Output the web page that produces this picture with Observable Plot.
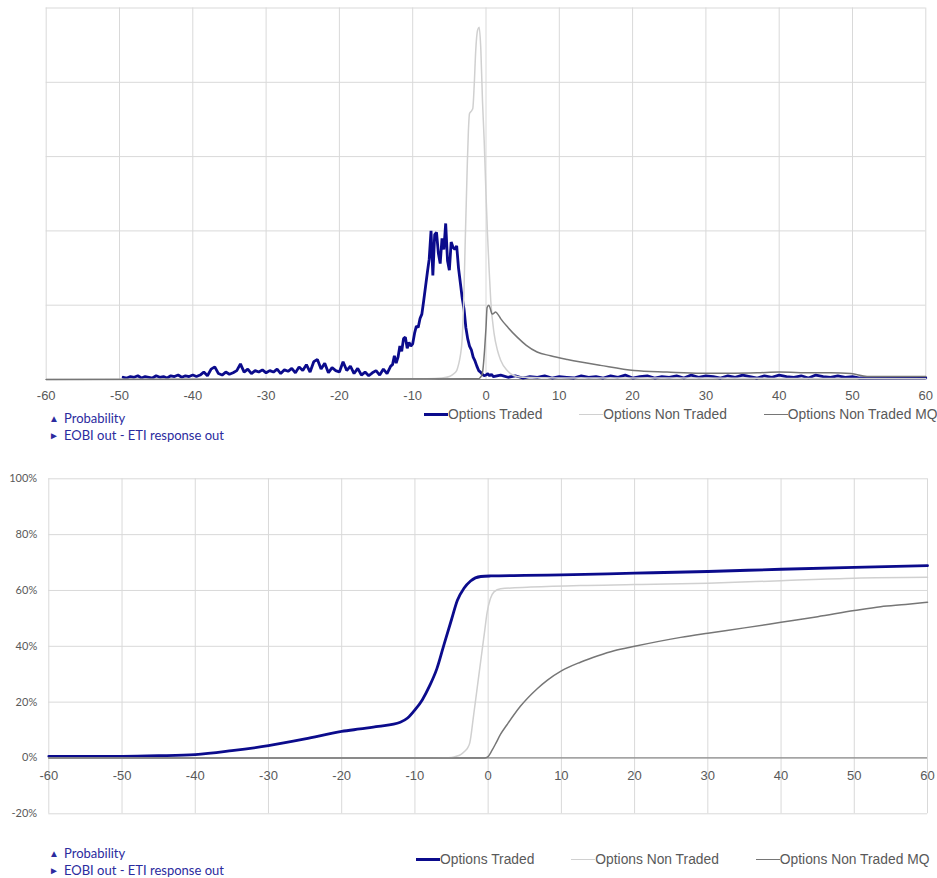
<!DOCTYPE html>
<html><head><meta charset="utf-8">
<script src="https://cdn.jsdelivr.net/npm/d3@7"></script>
<script src="https://cdn.jsdelivr.net/npm/@observablehq/plot@0.6"></script>
<style>
html,body{margin:0;padding:0;background:#fff}
body{width:937px;height:878px;position:relative;overflow:hidden;font-family:"Liberation Sans",Arial,sans-serif}
#c1{position:absolute;left:0;top:0}
#c2{position:absolute;left:0;top:460px}
.legL{position:absolute;left:49px;font-family:Lato,sans-serif;font-size:13px;color:#2b2b9e;line-height:17px;white-space:nowrap}
.legL .tri{display:inline-block;width:15px;font-size:10px;vertical-align:1px}
.legR{position:absolute;display:flex;align-items:center;white-space:nowrap;font-family:"Liberation Sans",Arial,sans-serif;font-size:13.8px;color:#595959}
.legR .sw{display:inline-block;width:24px;margin-right:0}
.legR .item{display:flex;align-items:center;margin-right:37px}
</style>
</head><body>
<div id="c1"></div>
<div id="c2"></div>
<div class="legL" style="top:410px"><div><span class="tri">▲</span>Probability</div><div><span class="tri">►</span>EOBI out - ETI response out</div></div>
<div class="legR" style="top:407px;left:424px" id="lr1"></div>
<div class="legL" style="top:845px"><div><span class="tri">▲</span>Probability</div><div><span class="tri">►</span>EOBI out - ETI response out</div></div>
<div class="legR" style="top:852px;left:416px" id="lr2"></div>
<script>
// ---- shared ----
const xTicks = [-60,-50,-40,-30,-20,-10,0,10,20,30,40,50,60];
const seriesNames = ["Options Traded","Options Non Traded","Options Non Traded MQ"];
const seriesColors = ["#0b0b8c","#d0d0d0","#767676"];
const seriesWidths = [3,1.5,1.5];

// ---- top chart: density (arbitrary units, 5 gridline bands) ----
const densityGrid = [0,1,2,3,4,5];
// Options Traded, from -49.5 in steps of 0.5
const tradedTailLeftStart = -49.5;
const tradedTailLeft = [0.03,0.02,0.04,0.03,0.05,0.02,0.04,0.03,0.02,0.05,0.03,0.04,0.02,0.05,0.04,0.06,0.03,0.05,0.04,0.06,
  0.04,0.06,0.1,0.05,0.14,0.17,0.08,0.06,0.1,0.07,0.09,0.12,0.21,0.1,0.14,0.08,0.12,0.1,0.13,0.09,
  0.12,0.1,0.14,0.08,0.13,0.11,0.15,0.09,0.17,0.12,0.2,0.1,0.24,0.27,0.14,0.22,0.09,0.16,0.12,0.1,
  0.24,0.12,0.18,0.08,0.15,0.06,0.1,0.05,0.09,0.12,0.06,0.14,0.08,0.18];
// Options Traded, from -12.75 in steps of 0.25
const tradedPeakStart = -12.75;
const tradedPeak = [0.2,0.32,0.22,0.3,0.45,0.38,0.55,0.57,0.42,0.5,0.45,0.48,0.62,0.72,0.7,0.82,0.88,1.06,1.25,1.44,
  1.62,2.0,1.4,1.95,1.98,1.7,1.56,1.9,1.75,2.1,1.6,1.47,1.85,1.78,1.75,1.8,1.5,1.3,1.1,0.95,
  0.7,0.55,0.45,0.4,0.3,0.25,0.18,0.12,0.1,0.07,0.05,0.06,0.08,0.05,0.07,0.04];
// Options Traded, from 2 in steps of 1
const tradedTailRightStart = 2;
const tradedTailRight = [0.06,0.03,0.05,0.02,0.04,0.03,0.05,0.02,0.04,0.03,0.02,0.05,0.03,0.04,0.02,0.05,0.03,0.06,0.02,0.04,
  0.05,0.02,0.04,0.03,0.05,0.02,0.06,0.03,0.05,0.04,0.02,0.05,0.03,0.06,0.04,0.02,0.05,0.03,0.06,0.04,
  0.03,0.05,0.02,0.06,0.04,0.03,0.05,0.03,0.04,0.02,0.02,0.02,0.02,0.02,0.02,0.02,0.02,0.02,0.02];

const nonTradedDensX = [-60,-8,-6,-5,-4.5,-4,-3.75,-3.5,-3.25,-3,-2.85,-2.7,-2.55,-2.4,-2.25,-2.1,-1.95,-1.8,-1.6,-1.4,-1.15,-0.93,-0.7,-0.48,-0.25,-0.03,0.2,0.43,0.65,1.1,1.57,2,2.9,3.85,5,10,20,40,60];
const nonTradedDensY = [0,0.01,0.02,0.04,0.07,0.12,0.2,0.32,0.55,1.2,1.8,2.35,2.9,3.35,3.58,3.6,3.62,3.65,3.98,4.43,4.7,4.74,4.43,3.75,3.22,2.58,1.96,1.47,1.06,0.62,0.39,0.26,0.12,0.05,0.03,0.02,0.02,0.015,0.01];

const mqDensX = [-60,-1,-0.75,-0.5,-0.2,0,0.15,0.38,0.6,0.83,1.05,1.3,1.6,2,3,4.25,5.5,6.97,8.8,11.1,15.6,20.2,24.7,29.3,33.8,37,40,44.5,47,49.8,52,55,60];
const mqDensY = [0,0.01,0.03,0.08,0.39,0.7,0.97,1.0,0.95,0.88,0.89,0.91,0.88,0.82,0.7,0.57,0.46,0.37,0.32,0.27,0.19,0.12,0.1,0.085,0.085,0.09,0.1,0.09,0.09,0.08,0.04,0.04,0.04];

// ---- bottom chart: cumulative (%) ----
const cumTicks = [-20,0,20,40,60,80,100];
const tradedCumX = [-60,-55,-50,-45,-40,-35,-30,-25,-20,-17.5,-15,-12,-11,-10,-9,-8,-7,-6,-5,-4.2,-3.3,-2.4,-1,0.35,5,10,20,30,40,50,60];
const tradedCumY = [0.6,0.6,0.6,0.8,1.2,2.6,4.4,6.8,9.5,10.4,11.3,12.8,14.3,17.2,20.8,25.8,32,40.9,49.6,56.5,60.8,63.4,65.0,65.2,65.4,65.6,66.2,66.8,67.6,68.3,68.9];
const nonTradedCumX = [-60,-8,-6,-5,-4.5,-3.75,-3.2,-2.8,-2.5,-2,-1.5,-1,-0.5,-0.15,0.3,0.8,1.7,5.8,12.6,20,30,40,50,60];
const nonTradedCumY = [0,0,0.05,0.2,0.5,1.2,2.4,3.6,5.5,15,25,35,45,52,57,59.5,60.6,61.2,61.8,62.1,62.6,63.5,64.4,64.7];
const mqCumX = [-60,-0.5,-0.1,0.5,1,1.7,2.6,4.4,6.7,8.1,10,12.6,15,17.2,20,26.3,30,35,40,45,50,53.6,57,60];
const mqCumY = [0,0,0.3,2.6,5,8.5,12,18.5,24.8,27.9,31.2,34.3,36.6,38.4,40,43.2,44.7,46.6,48.6,50.6,52.8,54.2,55,55.8];

// ---- build ----
const fromStep = (start, step, vals) => vals.map((v, i) => ({x: start + i * step, y: v}));
const fromPairs = (xs, ys) => xs.map((x, i) => ({x, y: ys[i]}));
const tradedDens = [
  ...fromStep(tradedTailLeftStart, 0.5, tradedTailLeft),
  ...fromStep(tradedPeakStart, 0.25, tradedPeak),
  ...fromStep(tradedTailRightStart, 1, tradedTailRight)
];
const gridCol = "#d9d9d9";
const axisCol = "#8c8c8c";
const fmt = d => String(d);

const chartTop = Plot.plot({
  width: 937, height: 405,
  marginLeft: 45.7, marginRight: 11.7, marginTop: 7.5, marginBottom: 26,
  x: {domain: [-60, 60]},
  y: {domain: [0, 5], axis: null},
  style: {fontFamily: "Liberation Sans, Arial, sans-serif", fontSize: "13px", color: "#595959", background: "#fff", overflow: "visible"},
  marks: [
    Plot.ruleX(xTicks, {stroke: gridCol, strokeWidth: 1}),
    Plot.ruleY(densityGrid, {stroke: gridCol, strokeWidth: 1}),
    Plot.ruleY([0], {stroke: axisCol, strokeWidth: 1.2}),
    Plot.line(tradedDens, {x: "x", y: "y", stroke: seriesColors[0], strokeWidth: 2.8, strokeLinejoin: "miter"}),
    Plot.line(fromPairs(nonTradedDensX, nonTradedDensY), {x: "x", y: "y", stroke: seriesColors[1], strokeWidth: 1.5, curve: "monotone-x"}),
    Plot.line(fromPairs(mqDensX, mqDensY), {x: "x", y: "y", stroke: seriesColors[2], strokeWidth: 1.5, curve: "monotone-x"}),
    Plot.axisX({ticks: xTicks, tickSize: 0, tickPadding: 11.5, tickFormat: fmt, fontSize: 13, label: null})
  ]
});
document.getElementById("c1").appendChild(chartTop);

const chartBottom = Plot.plot({
  width: 937, height: 370,
  marginLeft: 48.3, marginRight: 10, marginTop: 18.3, marginBottom: 16.7,
  x: {domain: [-60, 60], axis: null},
  y: {domain: [-20, 100]},
  style: {fontFamily: "Liberation Sans, Arial, sans-serif", fontSize: "13px", color: "#595959", background: "#fff", overflow: "visible"},
  marks: [
    Plot.ruleX(xTicks, {stroke: gridCol, strokeWidth: 1}),
    Plot.ruleY(cumTicks, {stroke: gridCol, strokeWidth: 1}),
    Plot.ruleY([0], {stroke: axisCol, strokeWidth: 1.2}),
    Plot.line(fromPairs(tradedCumX, tradedCumY), {x: "x", y: "y", stroke: seriesColors[0], strokeWidth: 2.8, curve: "monotone-x"}),
    Plot.line(fromPairs(nonTradedCumX, nonTradedCumY), {x: "x", y: "y", stroke: seriesColors[1], strokeWidth: 1.5, curve: "monotone-x"}),
    Plot.line(fromPairs(mqCumX, mqCumY), {x: "x", y: "y", stroke: seriesColors[2], strokeWidth: 1.5, curve: "monotone-x"}),
    Plot.axisY({ticks: cumTicks, tickSize: 0, tickPadding: 11.6, tickFormat: d => d + "%", fontSize: 11, fontFamily: "Lato, sans-serif", label: null}),
    Plot.text(xTicks, {x: d => d, y: d => 0, text: fmt, dy: 18, fontSize: 13, fill: "#595959"})
  ]
});
document.getElementById("c2").appendChild(chartBottom);

// ---- legends ----
function legend(id) {
  const el = document.getElementById(id);
  seriesNames.forEach((n, i) => {
    const it = document.createElement("div");
    it.className = "item";
    const sw = document.createElement("span");
    sw.className = "sw";
    sw.style.height = seriesWidths[i] + "px";
    sw.style.background = seriesColors[i];
    const t = document.createElement("span");
    t.textContent = n;
    it.appendChild(sw); it.appendChild(t);
    el.appendChild(it);
  });
}
legend("lr1"); legend("lr2");
</script>
</body></html>
